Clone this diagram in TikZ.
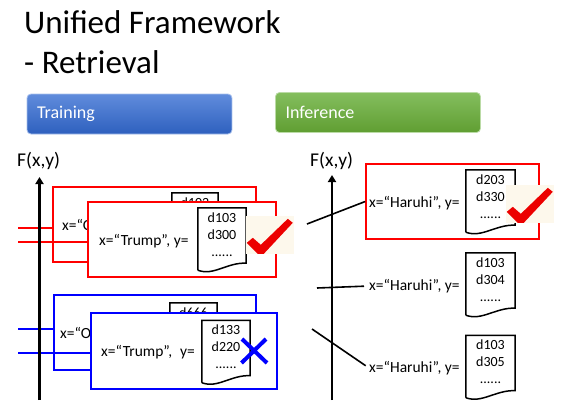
\documentclass[tikz,border=0pt]{standalone}
\usepackage{fontspec}
\setmainfont{Carlito}
\usetikzlibrary{positioning, arrows.meta, calc}

\definecolor{trainTop}{RGB}{96,140,220}
\definecolor{trainBot}{RGB}{46,96,190}
\definecolor{infTop}{RGB}{132,190,94}
\definecolor{infBot}{RGB}{96,158,50}
\definecolor{cream}{RGB}{253,248,236}
\definecolor{tickred}{RGB}{236,0,0}

% document outline with wavy bottom edge
\newcommand{\docoutline}[1]{%
  \draw[docline] (#1.south west) -- (#1.north west) -- (#1.north east) -- ([yshift=7pt]#1.south east)
    .. controls ([xshift=-19pt,yshift=8pt]#1.south east) and ([xshift=16pt,yshift=-6pt]#1.south west) .. (#1.south west);}
% brush-like check mark on its cream patch
\newcommand{\tickmark}[1]{%
  \fill[tickred] ($(#1.north west)+(1,27)$) -- ($(#1.north west)+(7,22)$) -- ($(#1.north west)+(15,29)$)
    -- ($(#1.north west)+(42,3)$) -- ($(#1.north west)+(47,7)$) -- ($(#1.north west)+(18,38)$)
    -- ($(#1.north west)+(12,38)$) -- cycle;}

\begin{document}
\begin{tikzpicture}[x=1pt, y=-1pt,
    every node/.style={font=\fontsize{15.5}{18}\selectfont, inner sep=0pt},
    title/.style={font=\fontsize{33}{38}\selectfont, anchor=base west},
    bar/.style={rectangle, rounded corners=4pt, minimum width=205pt, minimum height=40pt, text width=185pt,
                inner xsep=10pt, align=left, text=white, font=\fontsize{18}{21}\selectfont},
    axlab/.style={font=\fontsize{19.5}{21}\selectfont, anchor=base west},
    axis/.style={line width=2.2pt, -{Triangle[length=7pt,width=8pt]}},
    pair/.style={rectangle, draw=#1, line width=1.6pt, fill=white, minimum height=75pt},
    qtext/.style={anchor=west},
    doc/.style={rectangle, minimum width=48pt, minimum height=62pt, align=center, text depth=9pt,
                font=\fontsize{14}{17}\selectfont},
    backdoc/.style={doc, text depth=43pt},
    docline/.style={draw=black, line width=1.5pt},
    link/.style={line width=1.6pt},
    tickbg/.style={rectangle, fill=cream, minimum width=48pt, minimum height=38pt},
    cross/.style={blue, line width=4pt},
]
\useasboundingbox (0,0) rectangle (563,408);

% ---------- title and section bars ----------
\node[title] (t1) at (24,33) {Unified Framework};
\node[title] (t2) at (24,73) {- Retrieval};
\node[bar, top color=trainTop, bottom color=trainBot, draw=trainTop!55!white, line width=0.8pt] (train) at (129.5,114) {Training};
\node[bar, top color=infTop, bottom color=infBot, draw=infTop!55!white, line width=0.8pt] (infer) at (378,112.5) {Inference};

% ---------- training: positive pair (red) ----------
\node[axlab] (f1) at (17,166) {F(x,y)};
\node[pair=red, minimum width=203pt] (rback) at (154.5,224.5) {};
\node[qtext] (rbackq) at (62,225) {x=“O};
\node[backdoc, minimum width=46pt] (rbackd) at (195,224) {d102};
\docoutline{rbackd}
\coordinate (rl1) at (18,228);
\coordinate (rl2) at (18,242);
\draw[link, red] (rl1) -- (rl1 -| rback.west);
\draw[link, red] (rl2) -- (rl2 -| rback.east);
\node[pair=red, minimum width=188pt] (rfront) at (182,239.5) {};
\node[qtext] (rfrontq) at (99,241) {x=“Trump”, y=};
\node[doc] (rfrontd) at (222,239) {d103\\d300\\......};
\docoutline{rfrontd}
\node[tickbg] (rtick) at (270,235) {};
\tickmark{rtick}

% ---------- training: negative pair (blue) ----------
\node[pair=blue, minimum width=202pt] (bback) at (155,332.5) {};
\node[qtext] (bbackq) at (60,333) {x=“O};
\node[backdoc, minimum width=47pt] (bbackd) at (193.5,334) {d666};
\docoutline{bbackd}
\coordinate (bl1) at (18,329);
\coordinate (bl2) at (18,353);
\draw[link, blue] (bl1) -- (bl1 -| bback.west);
\draw[link, blue] (bl2) -- (bl2 -| bback.east);
\node[pair=blue, minimum width=186pt, minimum height=76pt] (bfront) at (184,351) {};
\node[qtext] (bfrontq) at (101,352) {x=“Trump”,\enspace y=};
\node[doc] (bfrontd) at (226,351.5) {d133\\d220\\......};
\docoutline{bfrontd}
\coordinate (xm) at (254.5,351);
\draw[cross] ($(xm)+(-12.5,-12)$) -- ($(xm)+(12.5,12)$);
\draw[cross] ($(xm)+(11.5,-12)$) -- ($(xm)+(-13,12)$);

\coordinate (ax1b) at (39.5,400);
\coordinate (ax1t) at (39.5,177);
\draw[axis] (ax1b) -- (ax1t);

% ---------- inference: ranking candidates ----------
\node[axlab] (f2) at (310,166) {F(x,y)};
\node[pair=red, minimum width=173pt] (hbox) at (452.5,201.5) {};
\node[qtext] (hq1) at (369,203) {x=“Haruhi”, y=};
\node[doc, minimum width=49pt] (hd1) at (490.5,201) {d203\\d330\\......};
\docoutline{hd1}
\node[tickbg] (htick) at (530,204) {};
\tickmark{htick}

\node[qtext] (hq2) at (369,286) {x=“Haruhi”, y=};
\node[doc, minimum width=49pt] (hd2) at (490.5,284) {d103\\d304\\......};
\docoutline{hd2}

\node[qtext] (hq3) at (369,368) {x=“Haruhi”, y=};
\node[doc, minimum width=49pt] (hd3) at (490.5,366.5) {d103\\d305\\......};
\docoutline{hd3}

\coordinate (p1) at (307,224);
\coordinate (p2) at (317,288);
\coordinate (p3) at (312,329);
\draw[link] (p1) -- (hbox.west);
\draw[link, shorten >=5pt] (p2) -- (hq2.west);
\draw[link, shorten >=4pt] (p3) -- (hq3.west);

\coordinate (ax2b) at (332,400);
\coordinate (ax2t) at (332,175);
\draw[axis] (ax2b) -- (ax2t);

\end{tikzpicture}
\end{document}
